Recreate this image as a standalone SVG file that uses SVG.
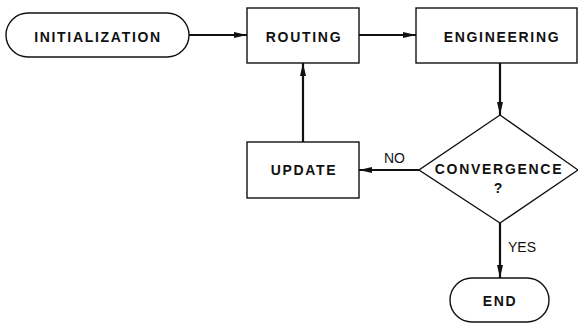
<svg xmlns="http://www.w3.org/2000/svg" width="578" height="323" viewBox="0 0 578 323">
<style>
.b{fill:#fff;stroke:#111;stroke-width:1.4}
.t{font-family:"Liberation Sans",Arial,sans-serif;font-weight:bold;font-size:14px;fill:#111;text-anchor:middle;letter-spacing:1.7px}
.l{font-family:"Liberation Sans",Arial,sans-serif;font-size:14px;fill:#111}
.c{fill:none;stroke:#111;stroke-width:2.2}
</style>
<defs>
<marker id="a" viewBox="0 0 13 7" refX="13" refY="3.5" markerWidth="13" markerHeight="7" markerUnits="userSpaceOnUse" orient="auto">
<path d="M0,0.5 L13,3.5 L0,6.5 Z" fill="#111"/>
</marker>
</defs>
<rect width="578" height="323" fill="#fff"/>
<g id="connectors">
<line class="c" x1="189" y1="35" x2="247" y2="35" marker-end="url(#a)"/>
<line class="c" x1="359" y1="35" x2="416" y2="35" marker-end="url(#a)"/>
<line class="c" x1="500" y1="63" x2="500" y2="115" marker-end="url(#a)"/>
<line class="c" x1="419" y1="170" x2="359" y2="170" marker-end="url(#a)"/>
<line class="c" x1="303" y1="142" x2="303" y2="63" marker-end="url(#a)"/>
<line class="c" x1="500" y1="223" x2="500" y2="278" marker-end="url(#a)"/>
<text class="l" x="384" y="163">NO</text>
<text class="l" x="508" y="252">YES</text>
</g>
<g id="initialization">
<rect class="b" x="6" y="13" width="183" height="44" rx="22"/>
<text class="t" x="98" y="42">INITIALIZATION</text>
</g>
<g id="routing">
<rect class="b" x="247" y="8" width="112" height="55"/>
<text class="t" x="304" y="42">ROUTING</text>
</g>
<g id="engineering">
<rect class="b" x="416" y="8" width="161" height="55"/>
<text class="t" x="502" y="42">ENGINEERING</text>
</g>
<g id="convergence">
<polygon class="b" points="500,115 578,170 500,223 419,170"/>
<text class="t" x="499" y="174">CONVERGENCE</text>
<text class="t" x="499" y="193">?</text>
</g>
<g id="update">
<rect class="b" x="247" y="142" width="112" height="56"/>
<text class="t" x="304" y="175">UPDATE</text>
</g>
<g id="end">
<rect class="b" x="450" y="278" width="99" height="44" rx="22"/>
<text class="t" x="500" y="306">END</text>
</g>
</svg>
